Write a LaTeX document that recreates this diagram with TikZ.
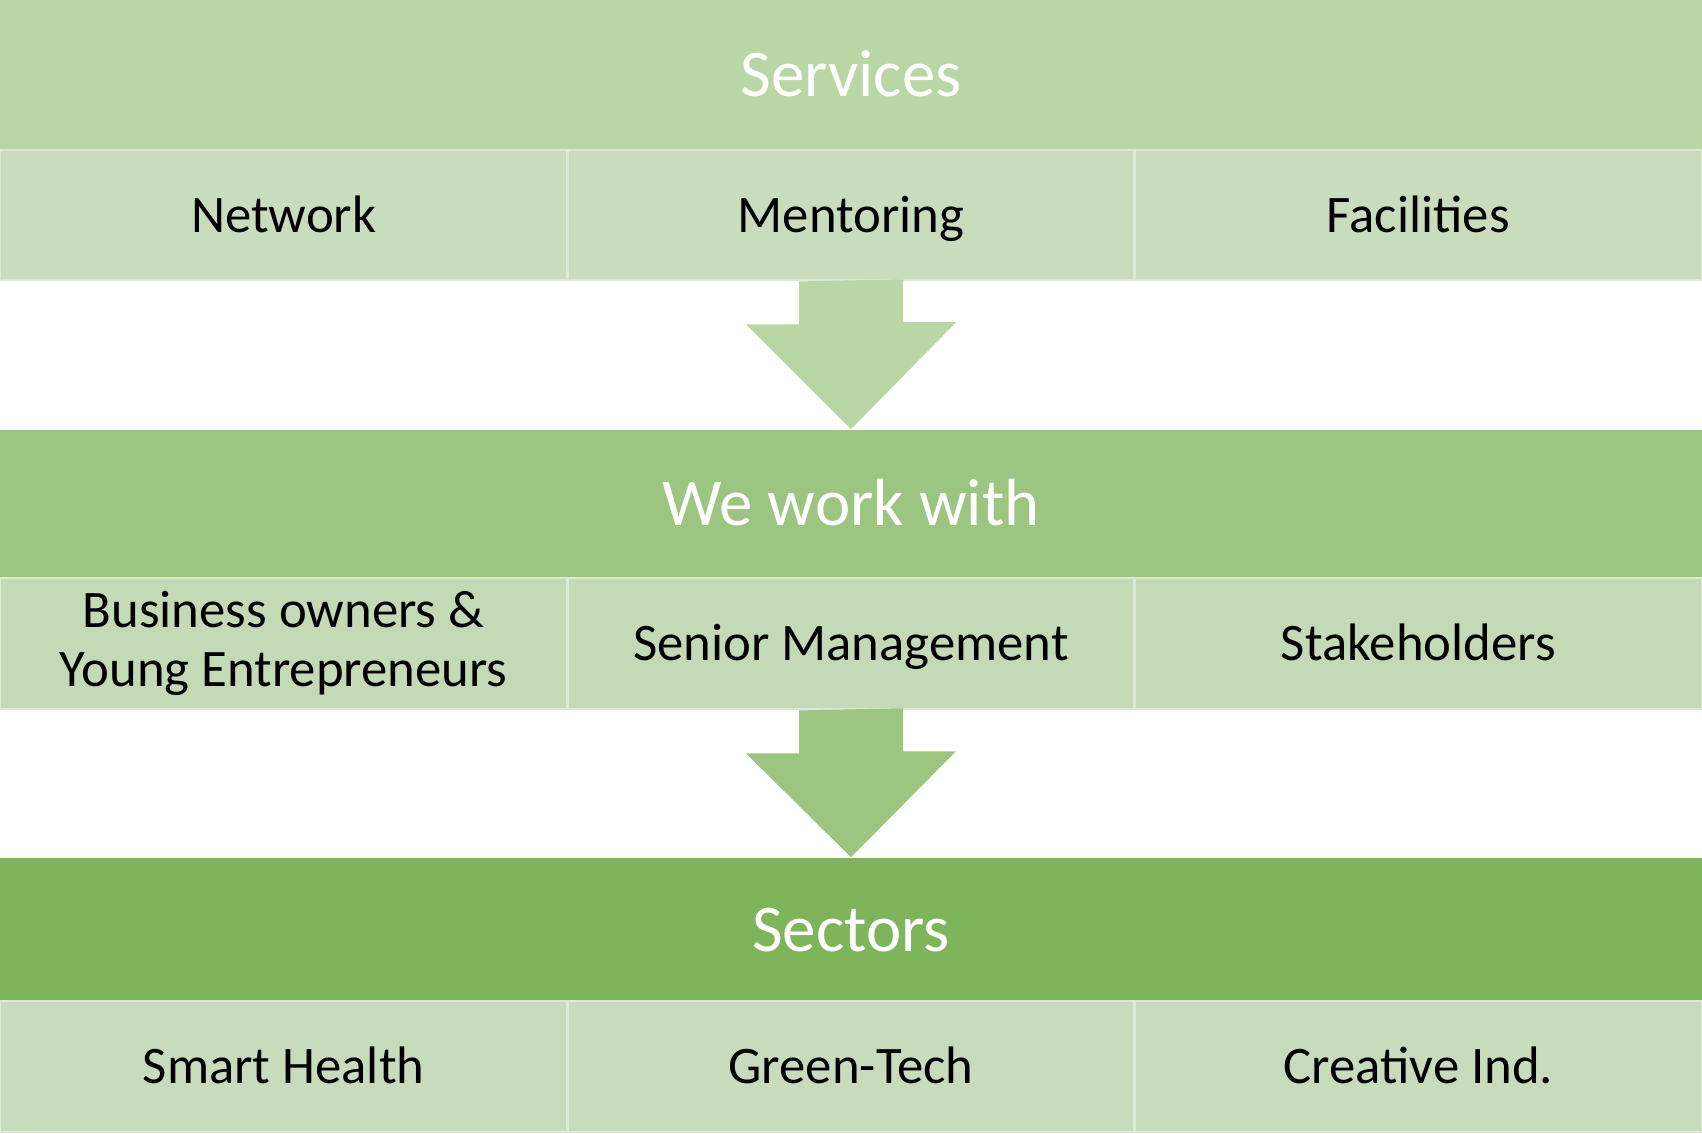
\documentclass[tikz,border=0pt]{standalone}
\usepackage{fontspec}
\setmainfont{Carlito}
\usetikzlibrary{arrows}
\definecolor{bandA}{HTML}{B9D7A5}
\definecolor{bandB}{HTML}{9DC582}
\definecolor{bandC}{HTML}{7FB55A}
\definecolor{cellA}{HTML}{C9DDBE}
\definecolor{cellB}{HTML}{C4DAB6}
\definecolor{cellC}{HTML}{C8DCBD}
\definecolor{cellline}{HTML}{DCE9D4}

\begin{document}
\begin{tikzpicture}[x=0.01cm, y=0.01cm,
    band/.style={fill=#1, minimum width=17.02cm, inner sep=0pt, text=white,
                 text height=16.1pt, text depth=3.8pt,
                 font=\fontsize{19}{23}\selectfont},
    cell/.style={fill=#1, draw=cellline, line width=0.8pt, minimum width=5.6733cm,
                 minimum height=1.30cm, inner sep=0pt, align=center,
                 font=\fontsize{15}{16.7}\selectfont},
    line/.style={text height=12.7pt, text depth=3pt}]
         \useasboundingbox (0,0) rectangle (1702,-1134);
         % services
         \node[band=bandA, minimum height=1.50cm] (services) at (851,-75) {Services};
         \node[cell=cellA, line] (network) at (283.67,-215) {Network};
         \node[cell=cellA, line] (mentoring) at (851,-215) {Mentoring};
         \node[cell=cellA, line] (facilities) at (1418.33,-215) {Facilities};
         % we work with
         \node[band=bandB, minimum height=1.48cm] (work) at (851,-504) {We work with};
         \node[cell=cellB, minimum height=1.31cm] (owners) at (283.67,-643.5) {Business owners \&\\Young Entrepreneurs};
         \node[cell=cellB, line, minimum height=1.31cm] (senior) at (851,-643.5) {Senior Management};
         \node[cell=cellB, line, minimum height=1.31cm] (stake) at (1418.33,-643.5) {Stakeholders};
         % sectors
         \node[band=bandC, minimum height=1.43cm] (sectors) at (851,-929.5) {Sectors};
         \node[cell=cellC, line, minimum height=1.31cm] (health) at (283.67,-1066.5) {Smart Health};
         \node[cell=cellC, line, minimum height=1.31cm] (green) at (851,-1066.5) {Green-Tech};
         \node[cell=cellC, line, minimum height=1.31cm] (creative) at (1418.33,-1066.5) {Creative Ind.};
         % block arrows
         \fill[bandA] (mentoring.south) ++(-52,0) -- ++(0,-43) -- ++(-53,0)
            -- (work.north) -- ++(105,107) -- ++(-53,0) -- ++(0,43) -- cycle;
         \fill[bandB] (senior.south) ++(-52,0) -- ++(0,-43) -- ++(-53,0)
            -- (sectors.north) -- ++(105,106) -- ++(-53,0) -- ++(0,43) -- cycle;
        \end{tikzpicture}
\end{document}
